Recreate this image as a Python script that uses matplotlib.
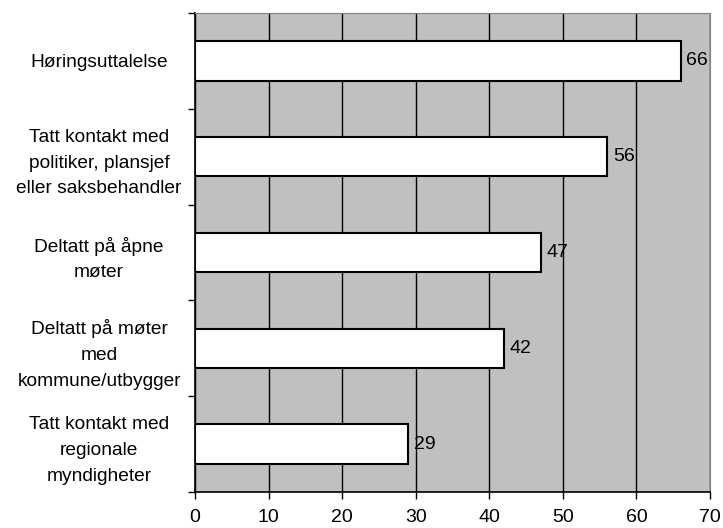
import numpy as np
import matplotlib.pyplot as plt

plt.rcParams['font.family'] = ['Liberation Sans', 'DejaVu Sans']

labels = [
    'Høringsuttalelse',
    'Tatt kontakt med\npolitiker, plansjef\neller saksbehandler',
    'Deltatt på åpne\nmøter',
    'Deltatt på møter\nmed\nkommune/utbygger',
    'Tatt kontakt med\nregionale\nmyndigheter',
]
values = [66, 56, 47, 42, 29]
xticks = [0, 10, 20, 30, 40, 50, 60, 70]

fig = plt.figure(figsize=(7.23, 5.28), dpi=100)
ax = fig.add_axes([195/723, 1 - 492/528, (710 - 195)/723, (492 - 13)/528])
ax.set_facecolor('#c0c0c0')

y = np.arange(len(values))
ax.barh(y, values, height=0.41, color='white', edgecolor='black', linewidth=1.5, zorder=3)
for yi, v in zip(y, values):
    ax.text(v + 0.8, yi, str(v), va='center', ha='left', fontsize=14, zorder=4)

ax.set_xlim(0, 70)
ax.set_ylim(len(values) - 0.5, -0.5)
ax.set_xticks(xticks)
ax.tick_params(axis='x', labelsize=14, length=5, width=1, direction='out', pad=7)
ax.set_yticks(np.arange(-0.5, len(values), 1))
ax.set_yticklabels([])
ax.tick_params(axis='y', length=5, width=1, direction='out')
ax.set_yticks(y, minor=True)
ax.set_yticklabels(labels, minor=True, fontsize=13.8, ha='center', linespacing=1.68)
ax.tick_params(axis='y', which='minor', length=0, pad=69)

ax.xaxis.grid(True, color='black', linewidth=1, zorder=1)
ax.set_axisbelow(True)

for s in ['top', 'right']:
    ax.spines[s].set_color('#808080')
for s in ['left', 'bottom']:
    ax.spines[s].set_color('black')
    ax.spines[s].set_linewidth(1.2)

plt.savefig('out.png', dpi=100)
